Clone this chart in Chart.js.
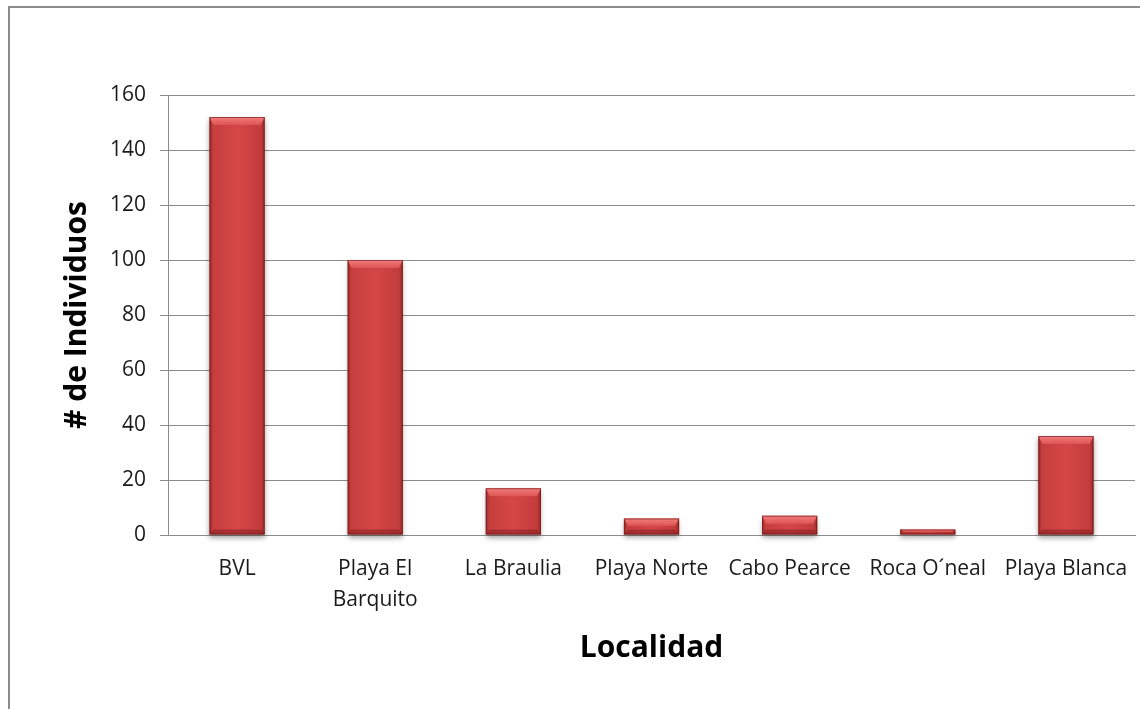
<!DOCTYPE html>
<html>
<head>
<meta charset="utf-8">
<script src="https://cdn.jsdelivr.net/npm/chart.js@4.4.1/dist/chart.umd.min.js"></script>
<style>
    html, body { margin: 0; padding: 0; background: #fff; overflow: hidden; }
    #wrap { position: relative; width: 1140px; height: 709px; }
    #frame {
        position: absolute; left: 8px; top: 6px; width: 1140px; height: 720px;
        border-left: 2px solid #8c8c8c; border-top: 2px solid #8c8c8c;
        box-sizing: border-box; pointer-events: none;
    }
</style>
</head>
<body>
<div id="wrap">
    <canvas id="chart" width="1140" height="709"></canvas>
    <div id="frame"></div>
</div>
<script>
// Individuals counted per locality
const localidades = ['BVL', ['Playa El', 'Barquito'], 'La Braulia', 'Playa Norte', 'Cabo Pearce', 'Roca O´neal', 'Playa Blanca'];
const individuos = [152, 100, 17, 6, 7, 2, 36];
const yTicks = [0, 20, 40, 60, 80, 100, 120, 140, 160];

const FONT = "'Open Sans', sans-serif";

// Draws each bar as a bevelled red block with a soft shadow underneath
const bevelBars = {
    id: 'bevelBars',
    afterDatasetsDraw(chart) {
        const ctx = chart.ctx;
        const meta = chart.getDatasetMeta(0);
        meta.data.forEach(bar => {
            const w = bar.width;
            const x0 = bar.x - w / 2, x1 = bar.x + w / 2;
            const top = bar.y, bottom = bar.base;
            const h = bottom - top;
            if (h <= 0) return;

            ctx.save();
            ctx.shadowColor = 'rgba(0,0,0,0.35)';
            ctx.shadowBlur = 5;
            ctx.shadowOffsetY = 3;
            const g = ctx.createLinearGradient(x0, 0, x1, 0);
            g.addColorStop(0, '#9c2b2b');
            g.addColorStop(0.07, '#c63e3e');
            g.addColorStop(0.5, '#d64646');
            g.addColorStop(0.93, '#c33c3c');
            g.addColorStop(1, '#922828');
            ctx.fillStyle = g;
            ctx.fillRect(x0, top, w, h);
            ctx.restore();

            const bv = Math.min(8, h / 2.2);
            const sv = Math.min(4, w / 6);

            // top bevel
            ctx.save();
            const tg = ctx.createLinearGradient(0, top, 0, top + bv);
            tg.addColorStop(0, '#f27c7c');
            tg.addColorStop(1, '#de5454');
            ctx.fillStyle = tg;
            ctx.beginPath();
            ctx.moveTo(x0, top);
            ctx.lineTo(x1, top);
            ctx.lineTo(x1 - sv, top + bv);
            ctx.lineTo(x0 + sv, top + bv);
            ctx.closePath();
            ctx.fill();

            // bottom bevel
            const bb = Math.min(5, h / 3);
            ctx.fillStyle = 'rgba(120,25,25,0.45)';
            ctx.beginPath();
            ctx.moveTo(x0, bottom);
            ctx.lineTo(x1, bottom);
            ctx.lineTo(x1 - sv, bottom - bb);
            ctx.lineTo(x0 + sv, bottom - bb);
            ctx.closePath();
            ctx.fill();

            // thin dark outline
            ctx.strokeStyle = 'rgba(110,20,20,0.6)';
            ctx.lineWidth = 1;
            ctx.strokeRect(x0 + 0.5, top + 0.5, w - 1, h - 1);
            ctx.restore();
        });
    }
};

new Chart(document.getElementById('chart'), {
    type: 'bar',
    data: {
        labels: localidades,
        datasets: [{
            label: '# de Individuos',
            data: individuos,
            backgroundColor: 'rgba(0,0,0,0)',
            borderWidth: 0,
            barPercentage: 0.4,
            categoryPercentage: 1.0,
        }]
    },
    plugins: [bevelBars],
    options: {
        responsive: false,
        animation: false,
        layout: { padding: { left: 55, top: 95, right: 5, bottom: 39 } },
        plugins: {
            legend: { display: false },
            tooltip: { enabled: false }
        },
        scales: {
            y: {
                min: 0,
                max: 160,
                afterBuildTicks: (axis) => { axis.ticks = yTicks.map(v => ({ value: v })); },
                border: { display: true, color: '#8c8c8c', width: 1 },
                grid: { color: '#8c8c8c', lineWidth: 1, tickLength: 8, drawTicks: true },
                ticks: { color: '#1a1a1a', font: { family: FONT, size: 21 }, padding: 14 },
                title: {
                    display: true,
                    text: '# de Individuos',
                    color: '#000',
                    font: { family: FONT, size: 30, weight: 'bold' },
                    padding: { top: 4, bottom: 1 }
                }
            },
            x: {
                border: { display: true, color: '#8c8c8c', width: 1 },
                grid: { display: false },
                ticks: {
                    color: '#1a1a1a',
                    font: { family: FONT, size: 21, lineHeight: 1.5 },
                    padding: 10,
                    maxRotation: 0,
                    autoSkip: false
                },
                title: {
                    display: true,
                    text: 'Localidad',
                    color: '#000',
                    font: { family: FONT, size: 30, weight: 'bold' },
                    padding: { top: 4 }
                }
            }
        }
    }
});
</script>
</body>
</html>
